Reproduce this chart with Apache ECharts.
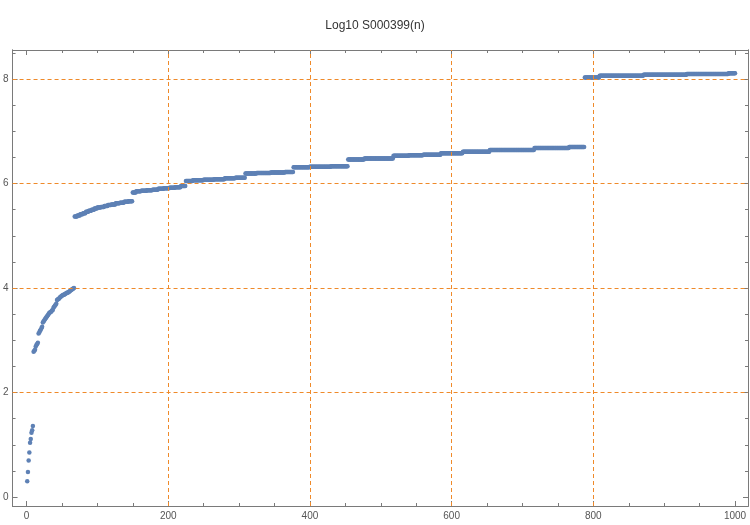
<!DOCTYPE html>
<html>
<head>
<meta charset="utf-8">
<script src="https://cdn.jsdelivr.net/npm/echarts@6/dist/echarts.min.js"></script>
<style>html,body{margin:0;padding:0;background:#fff}#c{width:750px;height:525px}</style>
</head>
<body>
<div id="c"></div>
<script>
// Title
const chartTitle = 'Log10 S000399(n)';
// Values for n = 1..67, read point by point
const firstValues = [
  0.30, 0.48, 0.70, 0.85, 1.04, 1.11, 1.23, 1.28, 1.36,
  2.78, 2.80, 2.82, 2.88, 2.91, 2.93, 2.95, 3.13, 3.15, 3.18, 3.20,
  3.23, 3.26, 3.34, 3.36, 3.38, 3.40, 3.42, 3.44, 3.46, 3.48,
  3.50, 3.52, 3.53, 3.54, 3.55, 3.57, 3.58, 3.62, 3.64, 3.66,
  3.68, 3.70, 3.77, 3.78, 3.79, 3.80, 3.82, 3.83, 3.84, 3.85,
  3.86, 3.87, 3.87, 3.88, 3.89, 3.90, 3.91, 3.91, 3.92, 3.93,
  3.94, 3.95, 3.96, 3.97, 3.98, 3.99, 4.00
];
// Plateaus for n >= 68: each plateau starts at stepStartN and holds stepValue
const stepStartN = [
  68, 72, 76, 80, 84, 88, 92, 96, 100, 105, 110, 115, 120, 126, 132, 138, 144,
  150, 155, 162, 170, 178, 186, 194, 202, 210, 218,
  225, 235, 250, 265, 280, 295,
  309, 325, 345, 365, 377, 400, 430,
  454, 477, 518, 540, 560, 585, 616, 654, 717, 766,
  788, 809, 871, 932, 991
];
const stepValue = [
  5.37, 5.39, 5.41, 5.43, 5.46, 5.48, 5.50, 5.52, 5.54, 5.55, 5.57, 5.59, 5.60, 5.62, 5.63, 5.65, 5.66,
  5.83, 5.85, 5.86, 5.87, 5.88, 5.90, 5.91, 5.92, 5.93, 5.95,
  6.05, 6.06, 6.07, 6.08, 6.10, 6.11,
  6.19, 6.20, 6.21, 6.22, 6.31, 6.32, 6.33,
  6.46, 6.48, 6.53, 6.54, 6.55, 6.58, 6.61, 6.64, 6.68, 6.70,
  8.03, 8.06, 8.08, 8.095, 8.11
];
const lastN = 1000;
const xMajorTicks = [0, 200, 400, 600, 800, 1000];
const xMinorTicks = [50,100,150,250,300,350,450,500,550,650,700,750,850,900,950];
const yMajorTicks = [0, 2, 4, 6, 8];
const yMinorTicks = [0.5,1,1.5,2.5,3,3.5,4.5,5,5.5,6.5,7,7.5,8.5];
const xGridLines = [200, 400, 600, 800];
const yGridLines = [2, 4, 6, 8];

// build points
const points = [];
firstValues.forEach((v, i) => points.push([i + 1, v]));
for (let k = 0; k < stepStartN.length; k++) {
  const end = k + 1 < stepStartN.length ? stepStartN[k + 1] - 1 : lastN;
  for (let n = stepStartN[k]; n <= end; n++) points.push([n, stepValue[k]]);
}

const frameColor = '#7a7a7a';
const labelColor = '#555';
const gridColor = '#ef8a2a';
const font = 'Liberation Sans, Arial, sans-serif';
const X_MIN = -19.7, X_MAX = 1018.3, Y_MIN = -0.172, Y_MAX = 8.555;

function xAx(pos, ticks, len, labels) {
  return {
    type: 'value', position: pos, min: X_MIN, max: X_MAX,
    axisLine: { show: true, onZero: false, lineStyle: { color: frameColor, width: 1 } },
    axisTick: { show: true, inside: true, length: len, customValues: ticks, lineStyle: { color: frameColor } },
    axisLabel: labels ? { show: true, customValues: ticks, formatter: v => String(v), color: labelColor, fontSize: 10, fontFamily: font, margin: 5 } : { show: false },
    splitLine: { show: false }
  };
}
function yAx(pos, ticks, len, labels) {
  return {
    type: 'value', position: pos, min: Y_MIN, max: Y_MAX,
    axisLine: { show: true, onZero: false, lineStyle: { color: frameColor, width: 1 } },
    axisTick: { show: true, inside: true, length: len, customValues: ticks, lineStyle: { color: frameColor } },
    axisLabel: labels ? { show: true, customValues: ticks, formatter: v => String(v), color: labelColor, fontSize: 10, fontFamily: font, margin: 4 } : { show: false },
    splitLine: { show: false }
  };
}

const chart = echarts.init(document.getElementById('c'), null, { renderer: 'canvas' });
chart.setOption({
  animation: false,
  backgroundColor: '#fff',
  title: {
    text: chartTitle, left: 'center', top: 15,
    textStyle: { fontSize: 12, fontWeight: 'normal', color: '#333', fontFamily: font }
  },
  grid: { left: 10, right: 2, top: 50, bottom: 19, containLabel: false },
  xAxis: [
    xAx('bottom', xMajorTicks, 5, true),
    xAx('bottom', xMinorTicks, 3, false),
    xAx('top', xMajorTicks, 5, false),
    xAx('top', xMinorTicks, 3, false)
  ],
  yAxis: [
    yAx('left', yMajorTicks, 5, true),
    yAx('left', yMinorTicks, 3, false),
    yAx('right', yMajorTicks, 5, false),
    yAx('right', yMinorTicks, 3, false)
  ],
  series: [
    {
      type: 'line', data: [], z: 1, silent: true,
      markLine: {
        silent: true, symbol: 'none', animation: false,
        label: { show: false },
        lineStyle: { color: gridColor, type: [4, 3], width: 1 },
        emphasis: { disabled: true },
        data: xGridLines.map(v => ({ xAxis: v })).concat(yGridLines.map(v => ({ yAxis: v })))
      }
    },
    {
      type: 'scatter', data: points, z: 3, symbolSize: 4.5,
      itemStyle: { color: '#5e81b5', opacity: 1 }
    }
  ]
});
</script>
</body>
</html>
